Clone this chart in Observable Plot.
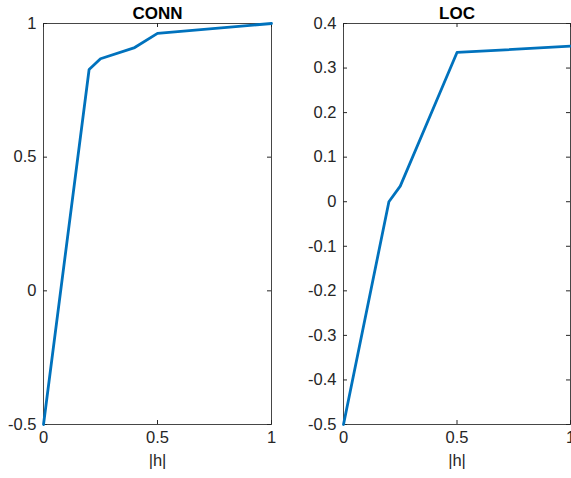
<!DOCTYPE html>
<html>
<head>
<meta charset="utf-8">
<script src="https://cdn.jsdelivr.net/npm/d3@7"></script>
<script src="https://cdn.jsdelivr.net/npm/@observablehq/plot@0.6"></script>
<style>
  html, body { margin: 0; padding: 0; background: #fff; }
  #wrap { display: flex; width: 571px; height: 478px; overflow: hidden; }
  #wrap svg { display: block; overflow: hidden; }
</style>
</head>
<body>
<div id="wrap"></div>
<script>
// Data
const hValues = [0, 0.2, 0.25, 0.4, 0.5, 1];
const connValues = [-0.5, 0.828, 0.868, 0.91, 0.963, 1.0];
const locValues = [-0.5, 0.0, 0.035, 0.215, 0.335, 0.349];
const titles = ["CONN", "LOC"];
const xLabel = "|h|";
const xTicks = [0, 0.5, 1];
const connYTicks = [-0.5, 0, 0.5, 1];
const locYTicks = [-0.5, -0.4, -0.3, -0.2, -0.1, 0, 0.1, 0.2, 0.3, 0.4];

const FONT = "'Liberation Sans', Arial, Helvetica, sans-serif";
const AX = "#262626";
const LINE = "#0072BD";
const fmt = d => String(+d.toFixed(1));

function panel({title, values, yDomain, yTicks, width, marginLeft, marginRight}) {
  const height = 478, marginTop = 23, marginBottom = 54;
  const innerW = width - marginLeft - marginRight;
  const innerH = height - marginTop - marginBottom;
  const data = hValues.map((h, i) => ({h, v: values[i]}));
  const tl = 4;
  return Plot.plot({
    width, height, marginLeft, marginRight, marginTop, marginBottom,
    style: {fontFamily: FONT, fontSize: "16px", color: AX, background: "white"},
    x: {domain: [0, 1], axis: null},
    y: {domain: yDomain, axis: null},
    marks: [
      Plot.text(xTicks, {x: d => d, text: fmt, frameAnchor: "bottom", dy: 18, fontSize: 16.5, fill: AX}),
      Plot.text(yTicks, {y: d => d, text: fmt, frameAnchor: "left", textAnchor: "end", dx: -7, fontSize: 16.5, fill: AX}),
      Plot.tickX(xTicks, {x: d => d, stroke: AX, insetTop: innerH - tl}),
      Plot.tickX(xTicks, {x: d => d, stroke: AX, insetBottom: innerH - tl}),
      Plot.tickY(yTicks, {y: d => d, stroke: AX, insetRight: innerW - tl}),
      Plot.tickY(yTicks, {y: d => d, stroke: AX, insetLeft: innerW - tl}),
      Plot.frame({stroke: AX, strokeWidth: 1, strokeOpacity: 0.85}),
      Plot.line(data, {x: "h", y: "v", stroke: LINE, strokeWidth: 2.8, strokeLinejoin: "round", clip: false}),
      Plot.text([title], {frameAnchor: "top", dy: -17, fontWeight: "bold", fontSize: 17, fill: "#000"}),
      Plot.text([xLabel], {frameAnchor: "bottom", dy: 41, fontSize: 16.5, fill: AX})
    ]
  });
}

const wrap = document.getElementById("wrap");
wrap.appendChild(panel({title: titles[0], values: connValues, yDomain: [-0.5, 1], yTicks: connYTicks, width: 290, marginLeft: 43, marginRight: 19}));
wrap.appendChild(panel({title: titles[1], values: locValues, yDomain: [-0.5, 0.4], yTicks: locYTicks, width: 281, marginLeft: 53, marginRight: 1}));
</script>
</body>
</html>
